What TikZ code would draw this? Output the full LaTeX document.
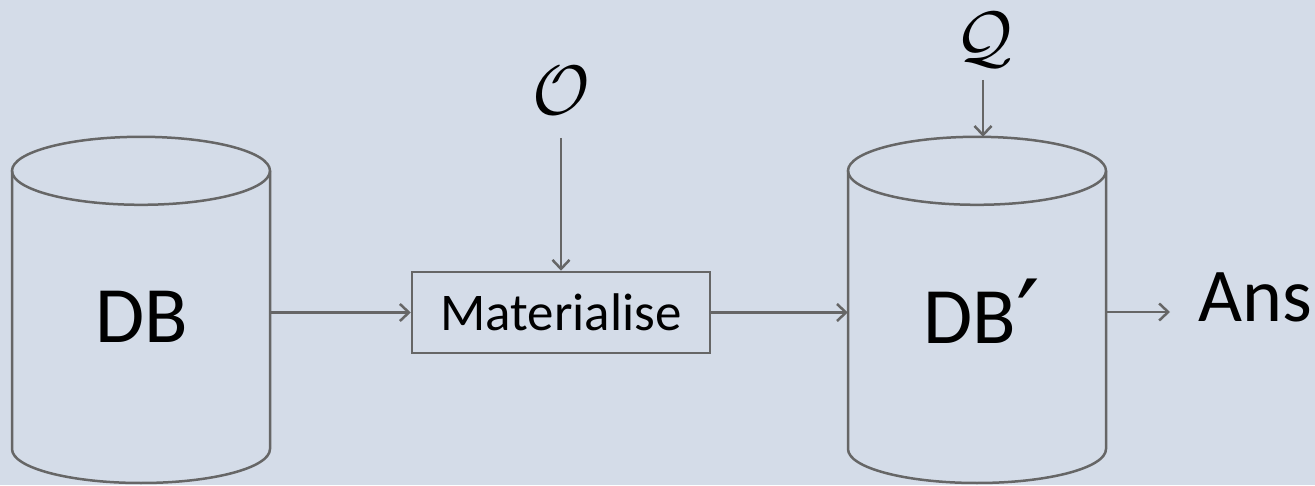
\RequirePackage{fix-cm}
\documentclass[tikz,border=0pt]{standalone}
\usepackage{fontspec}
\setmainfont{Carlito}
\newfontfamily\primefont{DejaVu Sans}
\usetikzlibrary{arrows.meta}
\definecolor{bg}{HTML}{D4DCE8}
\definecolor{ln}{HTML}{666666}
\begin{document}
\begin{tikzpicture}[x=1pt,y=1pt,
  outl/.style={draw=ln, line width=2.5pt},
  arr/.style={draw=ln, line width=2.5pt, -{Straight Barb[length=9pt,width=17pt,line width=2.5pt]}},
  blank/.style={draw=none, inner sep=0pt, minimum width=258pt, minimum height=345pt},
  big/.style={font=\fontsize{80}{90}\selectfont},
  mid/.style={font=\fontsize{53}{60}\selectfont},
  ansf/.style={font=\fontsize{76}{84}\selectfont},
  cal/.style={font=\fontsize{70}{80}\selectfont, inner sep=0pt}]
\fill[bg] (0,0) rectangle (1315,485);
\useasboundingbox (0,0) rectangle (1315,485);
% cylinder DB
\node[blank] (db) at (141,175.5) {};
\draw[outl] (db.north) ++(0,-34) ellipse [x radius=129, y radius=34];
\draw[outl] (12,314) -- (12,36) arc[start angle=180, end angle=360, x radius=129, y radius=34] -- (270,314);
\node[big] (dbt) at (142,168) {DB};
% cylinder DB'
\node[big] (db2t) at (982,168) {DB\raisebox{-12pt}{\primefont\fontsize{105}{110}\selectfont ′}};
\node[blank] (db2) at (977,175.5) {};
\draw[outl] (db2.north) ++(0,-34) ellipse [x radius=129, y radius=34];
\draw[outl] (848,314) -- (848,36) arc[start angle=180, end angle=360, x radius=129, y radius=34] -- (1106,314);
% materialise
\node[outl, mid, minimum width=298pt, minimum height=81pt, inner sep=0pt] (mat) at (561,172.5) {Materialise};
% O and Q
\node[cal] (o) at (561,394) {$\mathcal{O}$};
\node[cal, anchor=base, text height=42pt, text depth=6pt] (q) at (984,424) {$\mathcal{Q}$};
% Ans
\node[ansf, anchor=base west, inner sep=0pt] (ans) at (1198,163) {Ans};
\coordinate (anstip) at (1170,173);
% arrows
\draw[arr] (db.east |- mat.west) -- (mat.west);
\draw[arr] (mat.east) -- (db2.west |- mat.east);
\draw[arr] (db2.east |- anstip) -- (anstip);
\draw[arr] (561,347) -- (mat.north);
\draw[arr] (983,405) -- (db2.north -| 983,405);
\end{tikzpicture}
\end{document}
